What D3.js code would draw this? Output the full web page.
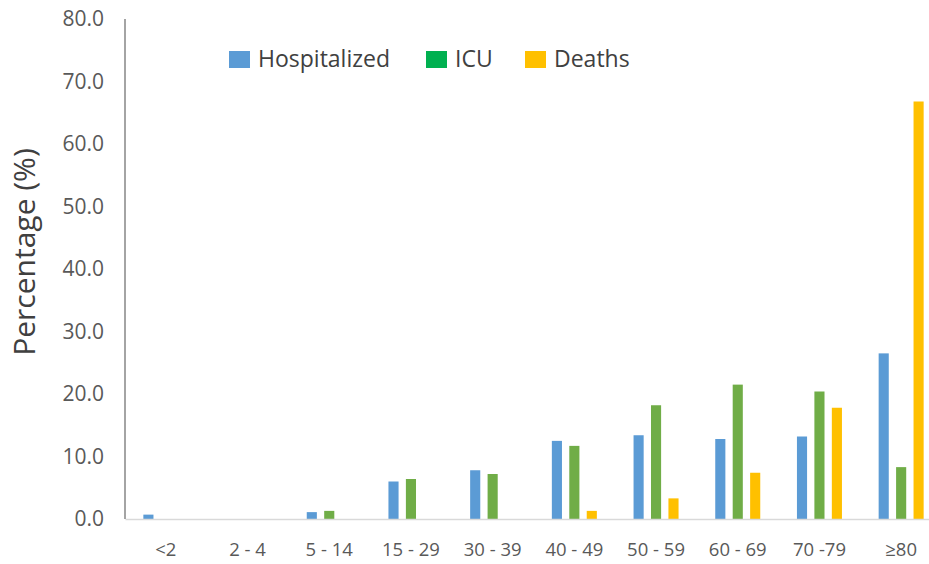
<!DOCTYPE html>
<html>
<head>
<meta charset="utf-8">
<script src="https://cdn.jsdelivr.net/npm/d3@7"></script>
<style>
  body { margin: 0; background: #fff; }
  text { font-family: "Open Sans", "Noto Sans", sans-serif; }
</style>
</head>
<body>
<svg id="chart" width="929" height="564"></svg>
<script>
var ageGroups = ['<2', '2 - 4', '5 - 14', '15 - 29', '30 - 39', '40 - 49', '50 - 59', '60 - 69', '70 -79', '\u226580'];
var seriesNames = ['Hospitalized', 'ICU', 'Deaths'];
var hospitalized = [0.7, 0, 1.1, 6.0, 7.8, 12.5, 13.4, 12.8, 13.2, 26.5];
var icu = [0, 0, 1.3, 6.4, 7.2, 11.7, 18.2, 21.5, 20.4, 8.3];
var deaths = [0, 0, 0, 0, 0, 1.3, 3.3, 7.4, 17.8, 66.8];
var yTicks = [0, 10, 20, 30, 40, 50, 60, 70, 80];

var barColors = { 'Hospitalized': '#5b9bd5', 'ICU': '#70ad47', 'Deaths': '#ffc000' };
var legendColors = { 'Hospitalized': '#5b9bd5', 'ICU': '#00b050', 'Deaths': '#ffc000' };

var svg = d3.select('#chart');
var plotLeft = 125, plotRight = 942, plotTop = 19, plotBottom = 519;

var x0 = d3.scaleBand().domain(ageGroups).range([plotLeft, plotRight]);
var x1 = d3.scaleBand().domain(seriesNames).range([-22.5, 22.5]).paddingInner(0.42);
var y = d3.scaleLinear().domain([0, 80]).range([plotBottom, plotTop]);

var rows = ageGroups.map(function (g, i) {
    return { group: g, values: [
        { key: 'Hospitalized', value: hospitalized[i] },
        { key: 'ICU', value: icu[i] },
        { key: 'Deaths', value: deaths[i] }
    ] };
});

// bars
var groups = svg.append('g').selectAll('g')
    .data(rows)
    .enter().append('g')
    .attr('transform', function (d) { return 'translate(' + (x0(d.group) + x0.bandwidth() / 2) + ',0)'; });

groups.selectAll('rect')
    .data(function (d) { return d.values.filter(function (v) { return v.value > 0; }); })
    .enter().append('rect')
    .attr('x', function (d) { return x1(d.key); })
    .attr('width', x1.bandwidth())
    .attr('y', function (d) { return y(d.value); })
    .attr('height', function (d) { return y(0) - y(d.value); })
    .attr('fill', function (d) { return barColors[d.key]; });

// y axis
var yAxis = svg.append('g')
    .attr('transform', 'translate(' + plotLeft + ',0)')
    .call(d3.axisLeft(y).tickValues(yTicks).tickSize(0).tickPadding(21).tickFormat(d3.format('.1f')));
yAxis.select('.domain').remove();
yAxis.selectAll('text').attr('fill', '#595959').style('font-size', '21px');

// x axis
var xAxis = svg.append('g')
    .attr('transform', 'translate(0,' + plotBottom + ')')
    .call(d3.axisBottom(x0).tickSize(0).tickPadding(24));
xAxis.select('.domain').attr('stroke', '#d9d9d9').attr('stroke-width', 1.5);
xAxis.selectAll('text').attr('fill', '#595959').style('font-size', '18.5px');
svg.append('line')
    .attr('x1', plotLeft).attr('x2', plotLeft).attr('y1', plotTop).attr('y2', plotBottom)
    .attr('stroke', '#868686').attr('stroke-width', 1.5);

// y title
svg.append('text')
    .attr('transform', 'translate(35,252) rotate(-90)')
    .attr('text-anchor', 'middle')
    .attr('fill', '#404040')
    .style('font-size', '30px')
    .text('Percentage (%)');

// legend
var legendX = [229, 426, 525];
var legend = svg.append('g').selectAll('g')
    .data(seriesNames)
    .enter().append('g')
    .attr('transform', function (d, i) { return 'translate(' + legendX[i] + ',51)'; });
legend.append('rect')
    .attr('width', 21).attr('height', 17)
    .attr('fill', function (d) { return legendColors[d]; });
legend.append('text')
    .attr('x', 29).attr('y', 16)
    .attr('fill', '#404040')
    .style('font-size', '23px')
    .text(function (d) { return d; });
</script>
</body>
</html>
